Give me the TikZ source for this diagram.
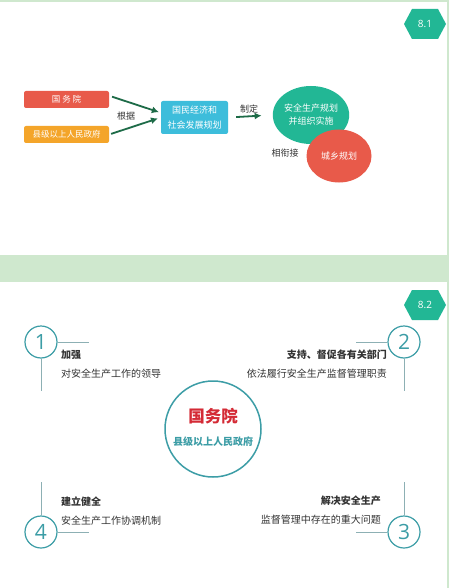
\documentclass[tikz,border=0pt]{standalone}
\usepackage{fontspec}
\setmainfont{Noto Sans CJK SC}
\newfontfamily\numfont{Open Sans}
\usetikzlibrary{arrows, arrows.meta, positioning, shapes.geometric}

\definecolor{bggreen}{HTML}{CFE8CE}
\definecolor{badge}{HTML}{22B795}
\definecolor{boxred}{HTML}{E85A4A}
\definecolor{boxorange}{HTML}{F4A52A}
\definecolor{boxblue}{HTML}{3DBDDB}
\definecolor{arrowgreen}{HTML}{1D6B47}
\definecolor{ringteal}{HTML}{3C9DA6}
\definecolor{linegray}{HTML}{8DB0B4}
\definecolor{hubred}{HTML}{D42A35}
\definecolor{txtgray}{HTML}{333333}

\begin{document}
\begin{tikzpicture}[x=1pt,y=-1pt]

\tikzset{box/.style = {rectangle, rounded corners=2pt, inner sep=0pt, text=white, font=\fontsize{8.5}{10}\selectfont}}
\tikzset{blob/.style = {ellipse, inner sep=0pt, text=white, align=center, font=\fontsize{9}{13}\selectfont}}
\tikzset{arrowline/.style = {-{Latex[length=7pt,width=7pt]}, line width=1.8pt, draw=arrowgreen}}
\tikzset{ring/.style = {shape=circle, draw=ringteal, line width=1.2pt, minimum size=32pt, inner sep=0pt, text=ringteal, font=\numfont\fontsize{21}{21}\selectfont}}
\tikzset{link/.style = {draw=linegray, line width=1pt}}
\tikzset{head/.style = {font=\bfseries\fontsize{10}{12}\selectfont, text=txtgray, inner sep=0pt}}
\tikzset{body/.style = {font=\fontsize{10}{12}\selectfont, text=txtgray, inner sep=0pt}}
\tikzset{note/.style = {font=\fontsize{9}{11}\selectfont, text=txtgray, inner sep=0pt}}

% background
\fill[bggreen] (0,0) rectangle (449,588);
\fill[white] (0,2) rectangle (447,255);
\fill[white] (0,282) rectangle (447,588);
\useasboundingbox (0,0) rectangle (449,588);

% badges
\fill[badge] (404,24) -- (412,9) -- (438,9) -- (446,24) -- (438,39) -- (412,39) -- cycle;
\node[text=white, font=\numfont\fontsize{10}{10}\selectfont] (b1) at (425,24) {8.1};
\fill[badge] (404,305) -- (412,290) -- (438,290) -- (446,305) -- (438,320) -- (412,320) -- cycle;
\node[text=white, font=\numfont\fontsize{10}{10}\selectfont] (b2) at (425,305) {8.2};

% vertices 8.1
\node[box, fill=boxred, minimum width=85pt, minimum height=17pt] (gwy) at (66.5,99.5) {国 务 院};
\node[box, fill=boxorange, minimum width=85pt, minimum height=17pt] (gov) at (66.5,134.5) {县级以上人民政府};
\node[box, fill=boxblue, minimum width=67pt, minimum height=33pt, align=center, font=\fontsize{9}{15}\selectfont] (plan) at (194.5,117.5) {国民经济和\\社会发展规划};
\node[blob, fill=badge, minimum width=72pt, minimum height=58pt] (safe) at (311,115) {安全生产规划\\并组织实施};
\node[blob, fill=boxred, minimum width=65pt, minimum height=53pt] (city) at (339,156) {城乡规划};
\node[note] (basis) at (126,116) {根据};
\node[note] (make) at (249,109) {制定};
\node[note] (link) at (285,153) {相衔接};

%edges 8.1
\draw[arrowline, shorten <=3pt, shorten >=2pt] (gwy.5) -- (plan.172);
\draw[arrowline, shorten <=2pt, shorten >=3pt] (gov.east) -- (plan.180);
\draw[arrowline, shorten <=8pt, shorten >=11pt] (plan.east) -- (safe.west);

% vertices 8.2
\node[shape=circle, draw=ringteal, line width=1.5pt, minimum size=96pt] (hub) at (213,429) {};
\node[font=\bfseries\fontsize{16.5}{18}\selectfont, text=hubred] (hubtop) at (213,416) {国务院};
\node[font=\bfseries\fontsize{10}{12}\selectfont, text=ringteal] (hubbot) at (213,442) {县级以上人民政府};

\node[ring] (r1) at (41,342) {1};
\node[ring] (r2) at (404,342) {2};
\node[ring] (r3) at (404,532) {3};
\node[ring] (r4) at (41,532) {4};

\coordinate (r1h) at (89,342);
\coordinate (r1v) at (41,391);
\coordinate (r2h) at (356,342);
\coordinate (r2v) at (404,391);
\coordinate (r3h) at (356,532);
\coordinate (r3v) at (404,482);
\coordinate (r4h) at (89,532);
\coordinate (r4v) at (41,482);

\node[head, anchor=west] (t1a) at (61,355) {加强};
\node[body, anchor=west] (t1b) at (61,374) {对安全生产工作的领导};
\node[head, anchor=east] (t2a) at (387,355) {支持、督促各有关部门};
\node[body, anchor=east] (t2b) at (387,374) {依法履行安全生产监督管理职责};
\node[head, anchor=east] (t3a) at (381,501) {解决安全生产};
\node[body, anchor=east] (t3b) at (381,520) {监督管理中存在的重大问题};
\node[head, anchor=west] (t4a) at (61,502) {建立健全};
\node[body, anchor=west] (t4b) at (61,521) {安全生产工作协调机制};

%edges 8.2
\draw[link] (r1.east) -- (r1h);
\draw[link] (r1.south) -- (r1v);
\draw[link] (r2.west) -- (r2h);
\draw[link] (r2.south) -- (r2v);
\draw[link] (r3.west) -- (r3h);
\draw[link] (r3.north) -- (r3v);
\draw[link] (r4.east) -- (r4h);
\draw[link] (r4.north) -- (r4v);
\end{tikzpicture}
\end{document}
